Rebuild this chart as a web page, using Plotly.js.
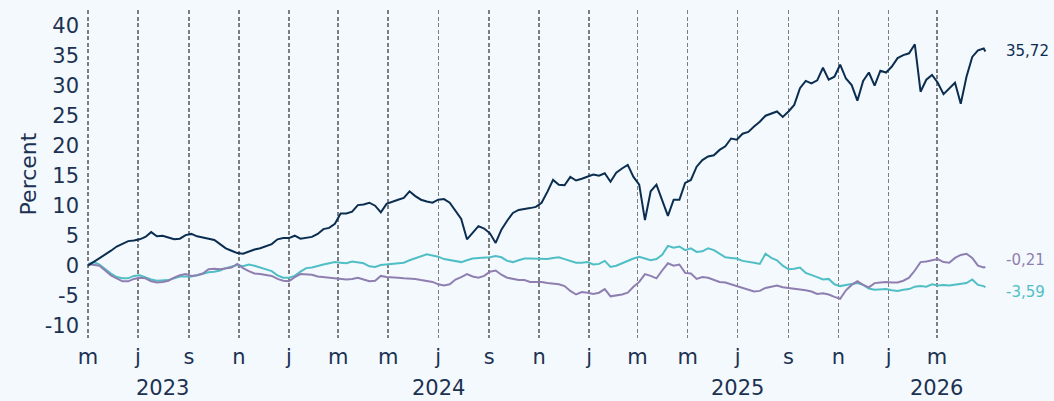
<!DOCTYPE html>
<html>
<head>
<meta charset="utf-8">
<script src="https://cdn.plot.ly/plotly-3.0.1.min.js"></script>
<style>
  html, body { margin: 0; padding: 0; background: #f4f9fd; }
  #chart { width: 1054px; height: 401px; }
</style>
</head>
<body>
<div id="chart"></div>
<script>
// Weekly sample dates
const dates = [
  '2023-05-01','2023-05-08','2023-05-15','2023-05-22','2023-05-29','2023-06-05','2023-06-12','2023-06-19','2023-06-26',
  '2023-07-03','2023-07-10','2023-07-17','2023-07-24','2023-07-31','2023-08-07','2023-08-14','2023-08-21','2023-08-28',
  '2023-09-04','2023-09-11','2023-09-18','2023-09-25','2023-10-02','2023-10-09','2023-10-16','2023-10-23','2023-10-30',
  '2023-11-06','2023-11-13','2023-11-20','2023-11-27','2023-12-04','2023-12-11','2023-12-18','2023-12-25',
  '2024-01-01','2024-01-08','2024-01-15','2024-01-22','2024-01-29','2024-02-05','2024-02-12','2024-02-19','2024-02-26',
  '2024-03-04','2024-03-11','2024-03-18','2024-03-25','2024-04-01','2024-04-08','2024-04-15','2024-04-22','2024-04-29',
  '2024-05-06','2024-05-13','2024-05-20','2024-05-27','2024-06-03','2024-06-10','2024-06-17','2024-06-24','2024-07-01',
  '2024-07-08','2024-07-15','2024-07-22','2024-07-29','2024-08-05','2024-08-12','2024-08-19','2024-08-26','2024-09-02',
  '2024-09-09','2024-09-16','2024-09-23','2024-09-30','2024-10-07','2024-10-14','2024-10-21','2024-10-28','2024-11-04',
  '2024-11-11','2024-11-18','2024-11-25','2024-12-02','2024-12-09','2024-12-16','2024-12-23','2024-12-30',
  '2025-01-06','2025-01-13','2025-01-20','2025-01-27','2025-02-03','2025-02-10','2025-02-17','2025-02-24','2025-03-03',
  '2025-03-10','2025-03-17','2025-03-24','2025-03-31','2025-04-07','2025-04-14','2025-04-21','2025-04-28','2025-05-05',
  '2025-05-12','2025-05-19','2025-05-26','2025-06-02','2025-06-09','2025-06-16','2025-06-23','2025-06-30','2025-07-07',
  '2025-07-14','2025-07-21','2025-07-28','2025-08-04','2025-08-11','2025-08-18','2025-08-25','2025-09-01','2025-09-08',
  '2025-09-15','2025-09-22','2025-09-29','2025-10-06','2025-10-13','2025-10-20','2025-10-27','2025-11-03','2025-11-10',
  '2025-11-17','2025-11-24','2025-12-01','2025-12-08','2025-12-15','2025-12-22','2025-12-29',
  '2026-01-05','2026-01-12','2026-01-19','2026-01-26','2026-02-02','2026-02-09','2026-02-16','2026-02-23','2026-03-02',
  '2026-03-09','2026-03-16','2026-03-23','2026-03-30','2026-04-06','2026-04-13','2026-04-20','2026-04-27','2026-04-29'
];

const seriesDark = [
  0, 0.6, 1.3, 1.9, 2.5, 3.2, 3.7, 4.1, 4.2, 4.4, 4.8, 5.6, 4.9, 5.0, 4.7, 4.4, 4.5, 5.1, 5.3, 4.9,
  4.7, 4.5, 4.3, 3.6, 2.9, 2.5, 2.1, 2.0, 2.4, 2.7, 2.9, 3.2, 3.6, 4.4, 4.6,
  4.6, 5.0, 4.5, 4.6, 4.8, 5.3, 6.1, 6.3, 7.0, 8.7, 8.7, 9.0, 10.1, 10.2, 10.5, 10.0, 8.9, 10.3,
  10.7, 11.0, 11.3, 12.4, 11.6, 11.0, 10.7, 10.5, 11.0, 11.1, 10.5, 9.1, 7.8, 4.4, 5.6, 6.6, 6.2,
  5.4, 3.8, 6.0, 7.5, 8.8, 9.3, 9.4, 9.6, 9.8, 10.5, 12.3, 14.3, 13.5, 13.4, 14.8, 14.2, 14.5, 14.8,
  15.2, 15.0, 15.4, 14.0, 15.5, 16.2, 16.8, 14.8, 13.5, 7.6, 12.4, 13.5, 11.0, 8.3, 11.0, 11.0, 13.8,
  14.3, 16.5, 17.6, 18.2, 18.4, 19.3, 19.9, 21.2, 21.0, 22.0, 22.3, 23.2, 24.0, 25.0, 25.4, 25.7,
  24.8, 25.7, 26.8, 29.6, 30.8, 30.4, 30.9, 33.0, 31.0, 31.5, 33.5, 31.2, 30.1, 27.5, 30.8, 32.2,
  30.0, 32.5, 32.2,
  33.2, 34.6, 35.1, 35.4, 36.9, 29.0, 31.0, 31.8, 30.5, 28.6, 29.6, 30.5, 27.0, 31.5, 34.8, 35.9, 36.2, 35.72
];

const seriesTeal = [
  0.3, 0.6, 0.2, -0.6, -1.3, -1.9, -2.1, -2.1, -1.7, -1.6, -2.0, -2.3, -2.5, -2.5, -2.4, -2.1, -1.8, -1.8,
  -1.8, -1.6, -1.3, -1.1, -1.0, -0.8, -0.4, -0.2, 0.1, -0.1, 0.2, 0.0, -0.3, -0.7, -0.9, -1.6, -2.0,
  -2.0, -1.7, -1.0, -0.4, -0.3, 0.0, 0.2, 0.4, 0.6, 0.5, 0.4, 0.7, 0.6, 0.4, -0.1, -0.2, 0.1, 0.2,
  0.3, 0.4, 0.5, 0.9, 1.2, 1.5, 1.9, 1.7, 1.5, 1.1, 0.9, 0.7, 0.6, 0.9, 1.2, 1.3, 1.3, 1.4,
  1.6, 1.4, 0.8, 0.6, 0.9, 1.2, 1.2, 1.2, 1.2, 1.1, 1.3, 1.4, 1.1, 0.8, 0.5, 0.5, 0.6,
  0.2, 0.3, 0.8, -0.2, 0.0, 0.4, 0.9, 1.2, 1.5, 1.2, 0.9, 1.1, 1.8, 3.3, 3.0, 3.2, 2.6, 2.9,
  2.3, 2.4, 2.9, 2.6, 2.0, 1.4, 1.3, 1.2, 0.8, 0.7, 0.5, 0.3, 2.0, 1.3, 0.9, 0.0, -0.6, -0.5,
  -0.3, -1.2, -1.5, -1.9, -2.3, -2.2, -3.1, -3.4, -3.2, -3.1, -2.9, -3.2, -3.8, -4.0, -3.9, -3.9,
  -4.1, -4.2, -4.0, -3.9, -3.5, -3.4, -3.5, -3.1, -3.3, -3.2, -3.3, -3.2, -3.0, -2.9, -2.3, -3.2, -3.4, -3.59
];

const seriesPurple = [
  0.3, 0.2, 0.0, -0.8, -1.6, -2.1, -2.6, -2.6, -2.2, -2.0, -2.1, -2.6, -2.8, -2.7, -2.5, -2.0, -1.6, -1.4,
  -1.7, -1.6, -1.3, -0.6, -0.5, -0.6, -0.5, -0.3, 0.3, -0.4, -0.9, -1.3, -1.4, -1.5, -1.7, -2.2, -2.5,
  -2.6, -1.9, -1.4, -1.4, -1.5, -1.8, -1.9, -2.0, -2.1, -2.2, -2.3, -2.2, -2.0, -2.3, -2.6, -2.5, -1.7, -1.9,
  -1.9, -2.0, -2.1, -2.1, -2.2, -2.4, -2.5, -2.7, -3.1, -3.3, -3.1, -2.3, -1.9, -1.4, -1.8, -2.0, -1.7, -1.0,
  -0.8, -1.5, -2.0, -2.2, -2.4, -2.4, -2.7, -2.7, -2.7, -2.9, -3.0, -3.1, -3.4, -4.2, -4.8, -4.4, -4.5,
  -4.7, -4.5, -3.9, -5.1, -5.0, -4.8, -4.5, -3.5, -2.7, -1.4, -1.7, -2.1, -0.8, 0.4, 0.0, 0.2, -1.2, -1.3,
  -2.2, -1.9, -2.0, -2.3, -2.7, -2.8, -3.1, -3.4, -3.8, -4.1, -4.3, -4.2, -3.7, -3.5, -3.3, -3.6, -3.7, -3.8,
  -4.0, -4.1, -4.3, -4.7, -4.6, -4.8, -5.2, -5.5, -4.1, -3.2, -2.6, -3.2, -3.6, -2.9, -2.8, -2.7,
  -2.8, -2.8, -2.5, -2.0, -0.8, 0.6, 0.7, 0.9, 1.1, 0.6, 0.5, 1.3, 1.8, 2.0, 1.3, 0.0, -0.3, -0.21
];

const tickDates = ['2023-05-01','2023-07-01','2023-09-01','2023-11-01','2024-01-01','2024-03-01','2024-05-01','2024-07-01',
  '2024-09-01','2024-11-01','2025-01-01','2025-03-01','2025-05-01','2025-07-01','2025-09-01','2025-11-01','2026-01-01','2026-03-01'];
const tickLabels = ['m','j','s','n','j','m','m','j','s','n','j','m','m','j','s','n','j','m'];
const yearLabels = ['2023','2024','2025','2026'];
const yearPositions = ['2023-07-31','2024-07-01','2025-07-01','2026-03-01'];
const yTicks = [-10, -5, 0, 5, 10, 15, 20, 25, 30, 35, 40];

const colDark = '#0b2e50';
const colTeal = '#4fbfc5';
const colPurple = '#8f7fb1';
const textCol = '#1c3252';
const bg = '#f4f9fd';
const FONT = 'DejaVu Sans, sans-serif';

function fmt(v) { return v.toFixed(2).replace('.', ','); }

const traces = [
  { x: dates, y: seriesTeal, type: 'scatter', mode: 'lines', line: { color: colTeal, width: 2 }, hoverinfo: 'skip' },
  { x: dates, y: seriesPurple, type: 'scatter', mode: 'lines', line: { color: colPurple, width: 2 }, hoverinfo: 'skip' },
  { x: dates, y: seriesDark, type: 'scatter', mode: 'lines', line: { color: colDark, width: 2 }, hoverinfo: 'skip' }
];

const ends = [
  { v: seriesDark[seriesDark.length - 1], c: colDark, shift: 0 },
  { v: seriesPurple[seriesPurple.length - 1], c: colPurple, shift: 7 },
  { v: seriesTeal[seriesTeal.length - 1], c: colTeal, shift: -5 }
];

const annotations = [];
ends.forEach(e => {
  annotations.push({ xref: 'paper', x: 1.0, xshift: 17, yref: 'y', y: e.v, yshift: e.shift, text: fmt(e.v),
    showarrow: false, xanchor: 'left', yanchor: 'middle', font: { family: FONT, size: 15, color: e.c } });
});
yearLabels.forEach((t, i) => {
  annotations.push({ xref: 'x', x: yearPositions[i], yref: 'paper', y: -0.152, text: t, showarrow: false,
    xanchor: 'center', yanchor: 'middle', font: { family: FONT, size: 21, color: textCol } });
});

const layout = {
  width: 1054, height: 401,
  margin: { l: 84, r: 67, t: 10, b: 63 },
  paper_bgcolor: bg, plot_bgcolor: bg,
  showlegend: false,
  font: { family: FONT, size: 21, color: textCol },
  xaxis: {
    type: 'date',
    range: ['2023-04-26 03:00', '2026-05-01'],
    tickmode: 'array', tickvals: tickDates, ticktext: tickLabels,
    showgrid: true, gridcolor: '#7d7d7d', gridwidth: 1.5, griddash: '4px,2.5px',
    zeroline: false, showline: false, ticks: '',
    ticklabelstandoff: 4,
    tickfont: { family: FONT, size: 21, color: textCol }
  },
  yaxis: {
    range: [-12.05, 42.62],
    tickmode: 'array', tickvals: yTicks, ticktext: yTicks.map(String),
    showgrid: false, zeroline: false, showline: false, ticks: '',
    ticklabelstandoff: 4,
    tickfont: { family: FONT, size: 21, color: textCol },
    title: { text: 'Percent', font: { family: FONT, size: 22, color: textCol }, standoff: 1 }
  },
  annotations: annotations
};

Plotly.newPlot('chart', traces, layout, { staticPlot: true, displayModeBar: false });
</script>
</body>
</html>
